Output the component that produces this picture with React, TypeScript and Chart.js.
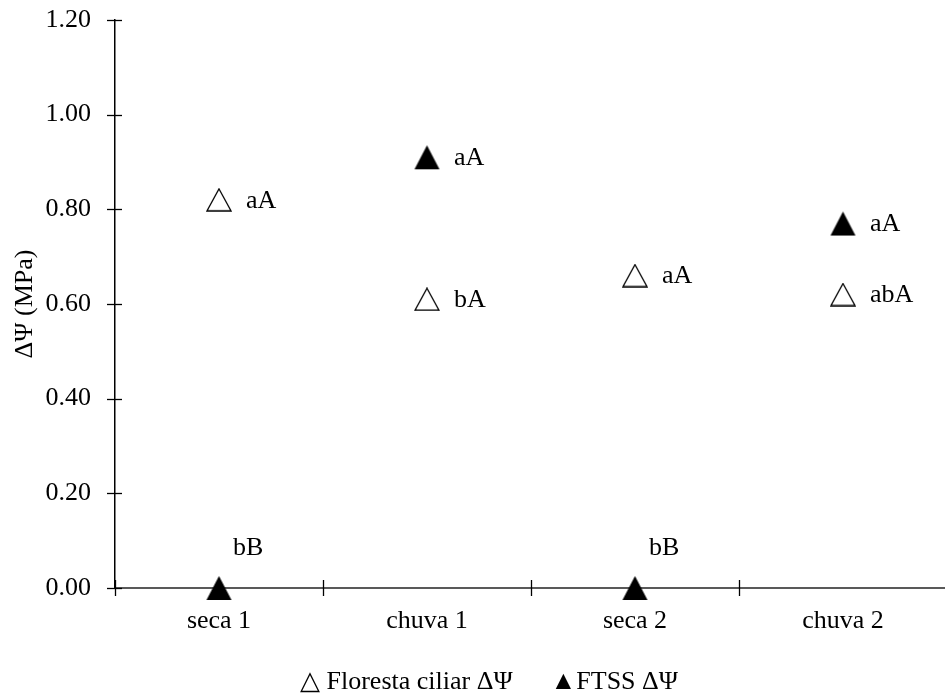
import React, { useEffect, useRef } from "react";
import { Chart, registerables } from "chart.js";

Chart.register(...registerables);

// Sampling periods and the two forest types
const categories = ["seca 1", "chuva 1", "seca 2", "chuva 2"];
const florestaValues = [0.82, 0.61, 0.66, 0.62];
const ftssValues = [0.0, 0.91, 0.0, 0.77];
// Significance letters shown beside each point
const florestaLetters = ["aA", "bA", "aA", "abA"];
const ftssLetters = ["bB", "aA", "bB", "aA"];
const seriesNames = ["Floresta ciliar ΔΨ", "FTSS ΔΨ"];
const legendGlyphs = ["△ ", "▲"];
const axisTitle = "ΔΨ (MPa)";
const yMin = 0;
const yMax = 1.2;
const yStep = 0.2;

const FONT = "'Liberation Serif', 'Times New Roman', serif";
const FONT_SIZE = 26;

// Triangle marker drawn on its own canvas so it is centred on its bounding box
function triangleImage(w: number, h: number, filled: boolean) {
  const c = document.createElement("canvas");
  c.width = w + 2;
  c.height = h + 2;
  const ctx = c.getContext("2d")!;
  ctx.beginPath();
  ctx.moveTo(1 + w / 2, 1);
  ctx.lineTo(1 + w, 1 + h);
  ctx.lineTo(1, 1 + h);
  ctx.closePath();
  if (filled) {
    ctx.fillStyle = "#000";
    ctx.fill();
  } else {
    ctx.fillStyle = "#fff";
    ctx.fill();
    ctx.lineWidth = 1.3;
    ctx.strokeStyle = "#000";
    ctx.stroke();
  }
  return c;
}

// Tick marks that cross the axis lines
const axisTicks = {
  id: "axisTicks",
  afterDraw(chart: any) {
    const { ctx, chartArea, scales } = chart;
    const xs = scales.x;
    const ys = scales.y;
    ctx.save();
    ctx.strokeStyle = "#000";
    ctx.lineWidth = 1.3;
    ys.ticks.forEach((_t: any, i: number) => {
      const py = Math.round(ys.getPixelForTick(i)) + 0.5;
      ctx.beginPath();
      ctx.moveTo(chartArea.left - 8, py);
      ctx.lineTo(chartArea.left + 7, py);
      ctx.stroke();
    });
    const base = Math.round(chartArea.bottom);
    for (let i = 0; i <= categories.length; i++) {
      const px = Math.round(xs.getPixelForValue(i - 0.5)) + 0.5;
      ctx.beginPath();
      ctx.moveTo(px, base - 8);
      ctx.lineTo(px, base + 8);
      ctx.stroke();
    }
    ctx.restore();
  },
};

// Letters next to each marker; zero-valued markers get theirs above
const letterLabels = {
  id: "letterLabels",
  afterDatasetsDraw(chart: any) {
    const { ctx } = chart;
    const letterSets = [florestaLetters, ftssLetters];
    const valueSets = [florestaValues, ftssValues];
    ctx.save();
    ctx.font = `${FONT_SIZE}px ${FONT}`;
    ctx.fillStyle = "#000";
    ctx.textAlign = "left";
    ctx.textBaseline = "middle";
    chart.data.datasets.forEach((_ds: any, d: number) => {
      const meta = chart.getDatasetMeta(d);
      meta.data.forEach((pt: any, i: number) => {
        const txt = letterSets[d][i];
        if (valueSets[d][i] === 0) {
          ctx.fillText(txt, pt.x + 14, pt.y - 40);
        } else {
          ctx.fillText(txt, pt.x + 27, pt.y + 1);
        }
      });
    });
    ctx.restore();
  },
};

// Single-row legend under the axis
const legendRow = {
  id: "legendRow",
  afterDraw(chart: any) {
    const { ctx } = chart;
    ctx.save();
    ctx.font = `${FONT_SIZE}px ${FONT}`;
    ctx.fillStyle = "#000";
    ctx.textAlign = "left";
    ctx.textBaseline = "alphabetic";
    const items = seriesNames.map((n, i) => legendGlyphs[i] + n);
    const gap = 38;
    const widths = items.map((t) => ctx.measureText(t).width);
    const total = widths.reduce((a, b) => a + b, 0) + gap * (items.length - 1);
    let x = 489 - total / 2;
    items.forEach((t, i) => {
      ctx.fillText(t, x, 689);
      x += widths[i] + gap;
    });
    ctx.restore();
  },
};

export default function App() {
  const ref = useRef<HTMLCanvasElement>(null);

  useEffect(() => {
    if (!ref.current) return;
    const openTri = triangleImage(24, 22, false);
    const fullTri = triangleImage(25, 24, true);
    const chart = new Chart(ref.current, {
      type: "line",
      data: {
        labels: categories,
        datasets: [
          {
            label: seriesNames[0],
            data: florestaValues,
            showLine: false,
            pointStyle: openTri as any,
            pointRadius: 12,
            clip: false as any,
          },
          {
            label: seriesNames[1],
            data: ftssValues,
            showLine: false,
            pointStyle: fullTri as any,
            pointRadius: 12,
            clip: false as any,
          },
        ],
      },
      options: {
        responsive: false,
        animation: false,
        events: [],
        layout: { padding: { top: 20, right: 9, left: 0, bottom: 0 } },
        plugins: {
          legend: { display: false },
          tooltip: { enabled: false },
        },
        scales: {
          x: {
            type: "category",
            offset: true,
            grid: { display: false, offset: true },
            border: { display: true, color: "#595959", width: 2 },
            ticks: {
              color: "#000",
              font: { family: FONT, size: FONT_SIZE },
              padding: 10,
              maxRotation: 0,
              autoSkip: false,
            },
            afterFit: (s: any) => {
              s.height = 106;
              s.paddingLeft = 0;
              s.paddingRight = 0;
            },
          },
          y: {
            min: yMin,
            max: yMax,
            grid: { display: false },
            border: { display: true, color: "#000", width: 1.5 },
            ticks: {
              stepSize: yStep,
              color: "#000",
              font: { family: FONT, size: FONT_SIZE },
              padding: 16,
              callback: (v: any) => Number(v).toFixed(2),
            },
            title: {
              display: true,
              text: axisTitle,
              color: "#000",
              font: { family: FONT, size: FONT_SIZE },
              padding: { top: 10, bottom: 0 },
            },
            afterFit: (s: any) => {
              s.width = 115;
              s.paddingTop = 0;
              s.paddingBottom = 0;
            },
          },
        },
      },
      plugins: [axisTicks, letterLabels, legendRow],
    });
    return () => chart.destroy();
  }, []);

  return (
    <div
      style={{
        position: "fixed",
        left: 0,
        top: 0,
        width: 945,
        height: 694,
        overflow: "hidden",
        background: "#fff",
      }}
    >
      <canvas ref={ref} width={960} height={694} style={{ display: "block" }} />
    </div>
  );
}
